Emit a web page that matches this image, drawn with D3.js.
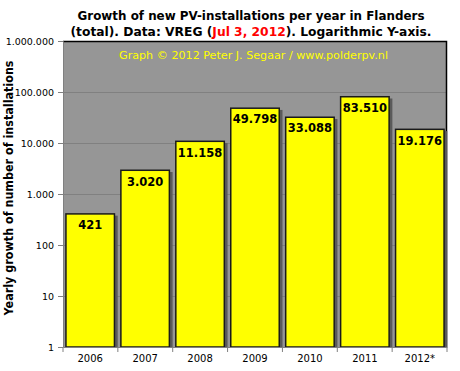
<!DOCTYPE html>
<html><head><meta charset="utf-8">
<script src="https://cdn.jsdelivr.net/npm/d3@7"></script>
<style>body{margin:0;background:#fff}svg{display:block}</style>
</head><body>
<svg id="c" width="460" height="371"></svg>
<script>
const years = ["2006","2007","2008","2009","2010","2011","2012*"];
const installs = [421, 3020, 11158, 49798, 33088, 83510, 19176];
const yTicks = [1, 10, 100, 1000, 10000, 100000, 1000000];
const titleLine1 = "Growth of new PV-installations per year in Flanders";
const titleLine2 = ["(total). Data: VREG (", "Jul 3, 2012", "). Logarithmic Y-axis."];
const yTitle = "Yearly growth of number of installations";
const credit = "Graph \u00a9 2012 Peter J. Segaar / www.polderpv.nl";

const loc = d3.formatLocale({decimal: ",", thousands: ".", grouping: [3], currency: ["", ""]});
const fmt = loc.format(",d");

const svg = d3.select("#c");
const m = {l: 63, r: 13, t: 41, b: 24};
const W = 460, H = 371;
const pw = W - m.l - m.r, ph = H - m.t - m.b;

const x = d3.scaleBand().domain(years).range([m.l, m.l + pw]).paddingInner(0.09).paddingOuter(0.04);
const y = d3.scaleLog().domain([1, 1000000]).range([m.t + ph, m.t]);

// plot background
svg.append("rect").attr("x", m.l).attr("y", m.t).attr("width", pw).attr("height", ph).attr("fill", "#969696");

// gridlines
svg.append("g").selectAll("line").data(yTicks.slice(1, -1)).join("line")
  .attr("x1", m.l).attr("x2", m.l + pw).attr("y1", d => y(d) + 0.5).attr("y2", d => y(d) + 0.5)
  .attr("stroke", "#808080").attr("stroke-width", 1);

// credit
svg.append("text").attr("x", 253.5).attr("y", 59).attr("text-anchor", "middle")
  .attr("font-family", "DejaVu Sans").attr("font-size", 11).attr("fill", "#ffff00")
  .attr("textLength", 269).attr("lengthAdjust", "spacingAndGlyphs").text(credit);

// plot border top/right
svg.append("path").attr("d", `M${m.l},${m.t + 0.5}H${m.l + pw - 0.5}V${m.t + ph}`)
  .attr("fill", "none").attr("stroke", "#000").attr("stroke-width", 1.5);

// bars shadows
const bars = svg.append("g");
bars.selectAll("rect.sh").data(installs).join("rect").attr("class", "sh")
  .attr("x", (d, i) => x(years[i]) + 2.5).attr("y", d => y(d) + 2.5)
  .attr("width", x.bandwidth()).attr("height", d => y(1) - y(d) - 2.5)
  .attr("fill", "#5a5a5a");
bars.selectAll("rect.b").data(installs).join("rect").attr("class", "b")
  .attr("x", (d, i) => x(years[i]) + 0.75).attr("y", d => y(d) + 0.75)
  .attr("width", x.bandwidth() - 1.5).attr("height", d => y(1) - y(d) - 0.75)
  .attr("fill", "#ffff00").attr("stroke", "#1a1a1a").attr("stroke-width", 1.5);

// value labels
svg.append("g").selectAll("text").data(installs).join("text")
  .attr("x", (d, i) => x(years[i]) + x.bandwidth() / 2).attr("y", d => y(d) + 16)
  .attr("text-anchor", "middle").attr("font-family", "DejaVu Sans").attr("font-weight", "bold")
  .attr("font-size", 11.5).attr("fill", "#000").text(d => fmt(d));

// y axis
const ya = svg.append("g").attr("transform", `translate(${m.l},0)`)
  .call(d3.axisLeft(y).tickValues(yTicks).tickFormat(d => fmt(d)).tickSize(5).tickPadding(4));
ya.select(".domain").attr("stroke", "#808080");
ya.selectAll(".tick line").attr("stroke", "#808080");
ya.selectAll("text").attr("font-family", "DejaVu Sans").attr("font-size", 9.5).attr("fill", "#000");

// x axis
const xa = svg.append("g").attr("transform", `translate(0,${m.t + ph})`)
  .call(d3.axisBottom(x).tickSize(0).tickPadding(8));
xa.select(".domain").attr("stroke", "#808080");
xa.selectAll("text").attr("font-family", "DejaVu Sans").attr("font-size", 10).attr("fill", "#000");
// category boundary ticks
svg.append("g").selectAll("line").data(d3.range(years.length + 1)).join("line")
  .attr("x1", i => m.l + i * pw / years.length).attr("x2", i => m.l + i * pw / years.length)
  .attr("y1", m.t + ph).attr("y2", m.t + ph + 5).attr("stroke", "#808080");

// title
const t = svg.append("g").attr("font-family", "DejaVu Sans").attr("font-weight", "bold").attr("font-size", 12.5).attr("text-anchor", "middle");
t.append("text").attr("x", 251).attr("y", 20).attr("textLength", 347).attr("lengthAdjust", "spacingAndGlyphs").text(titleLine1);
const t2 = t.append("text").attr("x", 251).attr("y", 36).attr("textLength", 361).attr("lengthAdjust", "spacingAndGlyphs");
t2.append("tspan").text(titleLine2[0]);
t2.append("tspan").attr("fill", "#ff0000").text(titleLine2[1]);
t2.append("tspan").text(titleLine2[2]);

// y title
svg.append("text").attr("transform", `translate(13,188) rotate(-90)`).attr("text-anchor", "middle")
  .attr("font-family", "DejaVu Sans").attr("font-weight", "bold").attr("font-size", 11.5)
  .attr("textLength", 255).attr("lengthAdjust", "spacingAndGlyphs").text(yTitle);
</script>
</body></html>
